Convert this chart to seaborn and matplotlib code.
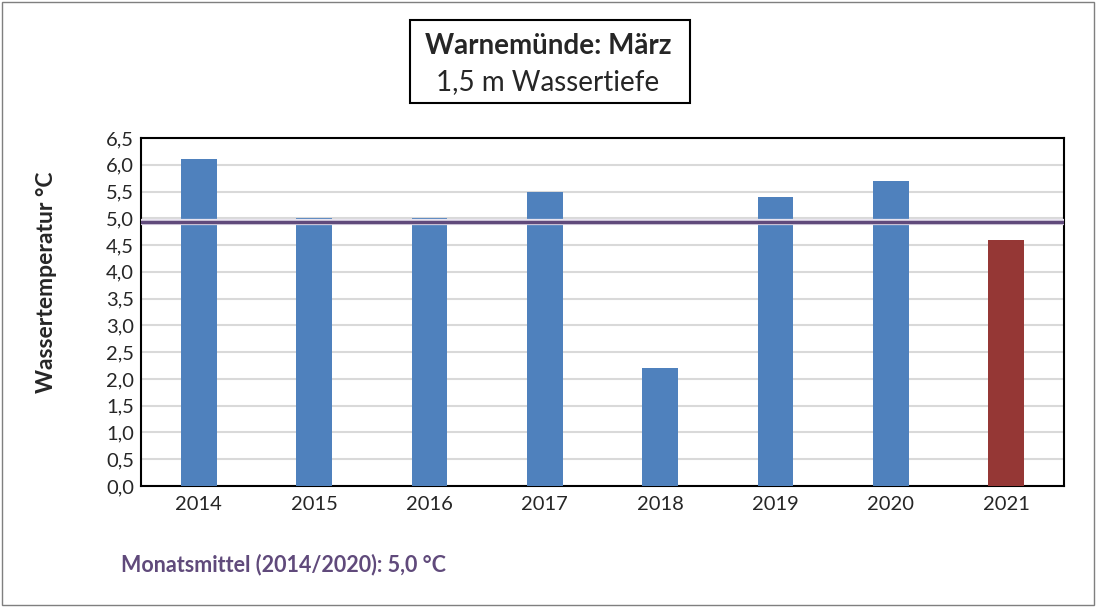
import matplotlib
matplotlib.use("Agg")
import matplotlib.pyplot as plt
import seaborn as sns
import pandas as pd
from matplotlib.patches import Rectangle

years = ["2014", "2015", "2016", "2017", "2018", "2019", "2020", "2021"]
temps = [6.1, 5.0, 5.0, 5.5, 2.2, 5.4, 5.7, 4.6]
bar_colors = ["#4F81BD"] * 7 + ["#953735"]
mean_value = 4.93
yticks = [0.0, 0.5, 1.0, 1.5, 2.0, 2.5, 3.0, 3.5, 4.0, 4.5, 5.0, 5.5, 6.0, 6.5]

sns.set_theme(style="white")
plt.rcParams['font.family'] = ['Lato', 'DejaVu Sans']

df = pd.DataFrame({"Jahr": years, "Temp": temps})

fig = plt.figure(figsize=(10.96, 6.07), dpi=100)
ax = fig.add_axes([0.1287, 0.1993, 0.8421, 0.5734])

sns.barplot(data=df, x="Jahr", y="Temp", hue="Jahr", palette=bar_colors,
            legend=False, width=0.31, ax=ax, zorder=3, saturation=1,
            linewidth=0, edgecolor="none")

ax.set_ylim(0, 6.5)
ax.set_yticks(yticks)
ax.set_yticklabels([f"{v:.1f}".replace(".", ",") for v in yticks], fontsize=14.5)
ax.tick_params(axis="x", labelsize=14.5, length=0, pad=7)
ax.tick_params(axis="y", length=0, pad=5)
ax.yaxis.grid(True, color="#D9D9D9", linewidth=1.5, zorder=0)
ax.set_axisbelow(True)
ax.set_xlabel("")
ax.set_ylabel("Wassertemperatur °C", fontsize=16.5, fontweight="bold")
ax.yaxis.set_label_coords(-0.091, 0.585)
for s in ax.spines.values():
    s.set_color("black")
    s.set_linewidth(1.5)

ax.axhline(mean_value, color="#E8E4EF", linewidth=4.5, zorder=4)
ax.axhline(mean_value, color="#604A7B", linewidth=2.5, zorder=5)

# title box
fig.patches.append(Rectangle((0.3745, 0.830), 0.2555, 0.137, transform=fig.transFigure,
                             fill=False, edgecolor="black", linewidth=1.5))
fig.text(0.5, 0.925, "Warnemünde: März", ha="center", va="center",
         fontsize=20, fontweight="bold")
fig.text(0.5, 0.865, "1,5 m Wassertiefe", ha="center", va="center", fontsize=20)

fig.text(0.11, 0.07, "Monatsmittel (2014/2020): 5,0 °C", ha="left", va="center",
         fontsize=15.5, fontweight="bold", color="#604A7B")

# outer frame
fig.patches.append(Rectangle((0.002, 0.003), 0.996, 0.994, transform=fig.transFigure,
                             fill=False, edgecolor="#7F7F7F", linewidth=1))

fig.savefig("out.png", dpi=100)
